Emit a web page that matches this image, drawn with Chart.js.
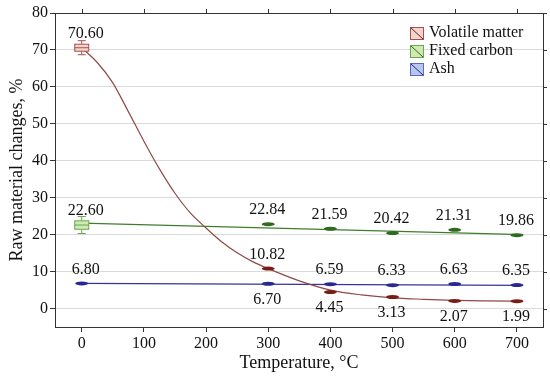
<!DOCTYPE html>
<html>
<head>
<meta charset="utf-8">
<script src="https://cdn.jsdelivr.net/npm/chart.js@4.4.1/dist/chart.umd.min.js"></script>
<style>
  html, body { margin: 0; padding: 0; background: #fff; }
  #wrap { width: 550px; height: 378px; }
</style>
</head>
<body>
<div id="wrap"><canvas id="chart" width="550" height="378"></canvas></div>
<script>
// measured points
const temps = [0, 300, 400, 500, 600, 700];
const volatileMatter = [70.60, 10.82, 4.45, 3.13, 2.07, 1.99];
const fixedCarbon = [22.60, 22.84, 21.59, 20.42, 21.31, 19.86];
const ashContent = [6.80, 6.70, 6.59, 6.33, 6.63, 6.35];

// spread (whisker half-range)
const volatileSd = [1.9, 0.35, 0.35, 0.3, 0.35, 0.3];
const fixedSd = [2.3, 0.3, 0.3, 0.4, 0.4, 0.3];
const ashSd = [0.4, 0.2, 0.35, 0.3, 0.35, 0.2];

// fitted curves
const volatileFitT = [0, 25, 50, 75, 100, 125, 150, 175, 200, 225, 250, 275, 300, 350, 400, 450, 500, 550, 600, 650, 710];
const volatileFit = [70.6, 66.6, 61.1, 53.3, 45.3, 37.8, 31.2, 25.8, 21.8, 18.1, 15.1, 12.7, 10.8, 7.5, 5.0, 3.7, 2.9, 2.5, 2.2, 2.05, 1.95];
const fixedFitT = [0, 710];
const fixedFit = [23.1, 20.0];
const ashFitT = [0, 710];
const ashFit = [6.8, 6.28];

const seriesNames = ['Volatile matter', 'Fixed carbon', 'Ash'];
const labelSide = [
  ['top', 'top', 'bottom', 'bottom', 'bottom', 'bottom'],
  ['top', 'top', 'top', 'top', 'top', 'top'],
  ['top', 'bottom', 'top', 'top', 'top', 'top']
];

const xTicks = [0, 100, 200, 300, 400, 500, 600, 700];
const yTicks = [0, 10, 20, 30, 40, 50, 60, 70, 80];

const colors = [
  { line: '#8e4a45', dark: '#7a1c14', edge: '#a8504a', fill: '#f4d4d0' },
  { line: '#3f7d2c', dark: '#2f6a1f', edge: '#6aa850', fill: '#cfe8b4' },
  { line: '#34349a', dark: '#282890', edge: '#5a6ac0', fill: '#b8c6ec' }
];
const SERIF = '"Liberation Serif", "Times New Roman", serif';

const pts = (xs, ys) => xs.map((x, i) => ({ x: x, y: ys[i] }));
const measured = [volatileMatter, fixedCarbon, ashContent];
const spreads = [volatileSd, fixedSd, ashSd];

const datasets = [
  { type: 'line', label: 'fit0', data: pts(volatileFitT, volatileFit), borderColor: colors[0].line, borderWidth: 1.2, pointRadius: 0, cubicInterpolationMode: 'monotone' },
  { type: 'line', label: 'fit1', data: pts(fixedFitT, fixedFit), borderColor: colors[1].line, borderWidth: 1.2, pointRadius: 0 },
  { type: 'line', label: 'fit2', data: pts(ashFitT, ashFit), borderColor: colors[2].line, borderWidth: 1.2, pointRadius: 0 }
];
measured.forEach((vals, s) => {
  datasets.push({ type: 'scatter', label: seriesNames[s], data: pts(temps, vals), pointRadius: 0, pointHoverRadius: 0, markerIndex: s });
});

// box / whisker markers and value labels
const markerPlugin = {
  id: 'markers',
  afterDatasetsDraw(chart) {
    const ctx = chart.ctx;
    const y = chart.scales.y;
    chart.data.datasets.forEach((ds, di) => {
      if (ds.markerIndex === undefined) return;
      const s = ds.markerIndex;
      const c = colors[s];
      const meta = chart.getDatasetMeta(di);
      meta.data.forEach((el, i) => {
        const v = measured[s][i], sd = spreads[s][i];
        const px = el.x, py = el.y;
        const bTop = y.getPixelForValue(v + sd / 2), bBot = y.getPixelForValue(v - sd / 2);
        const wTop = y.getPixelForValue(v + sd), wBot = y.getPixelForValue(v - sd);
        ctx.save();
        if (bBot - bTop < 4) {
          ctx.fillStyle = c.dark;
          ctx.beginPath();
          ctx.ellipse(px, py, 6.5, 2, 0, 0, Math.PI * 2);
          ctx.fill();
        } else {
          ctx.strokeStyle = c.edge;
          ctx.lineWidth = 1;
          ctx.beginPath();
          ctx.moveTo(px, wTop); ctx.lineTo(px, bTop);
          ctx.moveTo(px, bBot); ctx.lineTo(px, wBot);
          ctx.moveTo(px - 4, wTop); ctx.lineTo(px + 4, wTop);
          ctx.moveTo(px - 4, wBot); ctx.lineTo(px + 4, wBot);
          ctx.stroke();
          ctx.fillStyle = c.fill;
          ctx.fillRect(px - 7, bTop, 14, bBot - bTop);
          ctx.strokeRect(px - 7, bTop, 14, bBot - bTop);
          ctx.beginPath();
          ctx.moveTo(px - 7, py); ctx.lineTo(px + 7, py);
          ctx.stroke();
        }
        ctx.fillStyle = '#111';
        ctx.font = '16px ' + SERIF;
        ctx.textAlign = 'center';
        ctx.textBaseline = 'middle';
        const ly = labelSide[s][i] === 'top' ? py - 14 : py + 16;
        ctx.fillText(v.toFixed(2), px + (i === 0 ? 4 : -1), ly);
        ctx.restore();
      });
    });
  },
  afterDraw(chart) {
    const ctx = chart.ctx;
    const a = chart.chartArea;
    const xs = chart.scales.x, ys = chart.scales.y;
    ctx.save();
    ctx.strokeStyle = '#333';
    ctx.lineWidth = 1;
    ctx.beginPath();
    ctx.moveTo(a.left, a.top + 0.5); ctx.lineTo(a.right + 0.5, a.top + 0.5);
    ctx.lineTo(a.right + 0.5, a.bottom);
    xTicks.forEach(t => { const p = Math.round(xs.getPixelForValue(t)) + 0.5; ctx.moveTo(p, a.top); ctx.lineTo(p, a.top - 4); });
    yTicks.forEach(t => { const p = Math.round(ys.getPixelForValue(t)) + 0.5; ctx.moveTo(a.right, p); ctx.lineTo(a.right + 4, p); });
    ctx.stroke();

    // legend
    const lx = 410, ly0 = 33, step = 18;
    seriesNames.forEach((name, s) => {
      const c = colors[s];
      const cy = ly0 + s * step;
      ctx.fillStyle = c.fill;
      ctx.fillRect(lx, cy - 6, 13, 12);
      ctx.strokeStyle = c.edge;
      ctx.strokeRect(lx + 0.5, cy - 5.5, 13, 12);
      ctx.strokeStyle = c.dark;
      ctx.beginPath();
      ctx.moveTo(lx + 1, cy - 5); ctx.lineTo(lx + 13, cy + 6);
      ctx.stroke();
      ctx.fillStyle = '#111';
      ctx.font = '16px ' + SERIF;
      ctx.textAlign = 'left';
      ctx.textBaseline = 'middle';
      ctx.fillText(name, lx + 19, cy);
    });
    ctx.restore();
  }
};

new Chart(document.getElementById('chart').getContext('2d'), {
  data: { datasets: datasets },
  options: {
    responsive: false,
    animation: false,
    layout: { padding: { top: 13, right: 7, left: 0, bottom: 0 } },
    plugins: { legend: { display: false }, tooltip: { enabled: false } },
    scales: {
      x: {
        type: 'linear',
        min: -43,
        max: 742,
        afterBuildTicks: s => { s.ticks = xTicks.map(v => ({ value: v })); },
        afterFit: s => { s.height = 51; },
        grid: { drawOnChartArea: false, drawTicks: true, tickLength: 5, tickColor: '#333' },
        border: { display: true, color: '#333' },
        ticks: { color: '#111', font: { family: SERIF, size: 16 }, padding: 2, maxRotation: 0 },
        title: { display: true, text: 'Temperature, °C', color: '#111', font: { family: SERIF, size: 18 }, padding: { top: 0, bottom: 4 } }
      },
      y: {
        type: 'linear',
        min: -5,
        max: 80,
        afterBuildTicks: s => { s.ticks = yTicks.map(v => ({ value: v })); },
        afterFit: s => { s.width = 55; },
        grid: { color: '#dadada', drawTicks: true, tickLength: 5, tickColor: '#333' },
        border: { display: true, color: '#333' },
        ticks: { color: '#111', font: { family: SERIF, size: 16 }, padding: 2 },
        title: { display: true, text: 'Raw material changes, %', color: '#111', font: { family: SERIF, size: 18 }, padding: { top: 6, bottom: 0 } }
      }
    }
  },
  plugins: [markerPlugin]
});
</script>
</body>
</html>
